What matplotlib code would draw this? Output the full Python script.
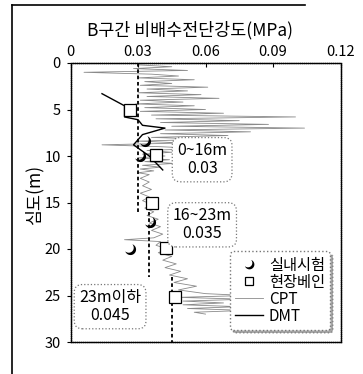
import numpy as np
import matplotlib
matplotlib.use("Agg")
import matplotlib.pyplot as plt
from matplotlib.path import Path
from matplotlib.lines import Line2D

plt.rcParams['font.family'] = ['Noto Sans CJK KR', 'DejaVu Sans']

# CPT undrained shear strength profile (depth m, Su MPa)
cpt_depth = [0.2, 0.4, 0.6, 0.8, 1.0, 1.2, 1.4, 1.6, 1.8, 2.0, 2.2, 2.4, 2.6, 2.8, 3.0,
             3.2, 3.4, 3.6, 3.8, 4.0, 4.2, 4.4, 4.6, 4.8, 5.0, 5.2, 5.4, 5.6, 5.8, 6.0,
             6.2, 6.4, 6.6, 6.8, 7.0, 7.2, 7.4, 7.6, 7.8, 8.0, 8.2, 8.4, 8.6, 8.8, 9.0,
             9.2, 9.4, 9.6, 9.8, 10.0, 10.2, 10.4, 10.6, 10.8, 11.0, 11.2, 11.4, 11.6, 11.8, 12.0,
             12.4, 12.8, 13.2, 13.6, 14.0, 14.4, 14.8, 15.2, 15.6, 16.0, 16.4, 16.8, 17.2, 17.6, 18.0,
             18.4, 18.8, 19.0, 19.2, 19.6, 20.0, 20.4, 20.8, 21.2, 21.6, 22.0, 22.4, 22.8, 23.2, 23.6,
             24.0, 24.4, 24.8, 25.0, 25.2, 25.4, 25.6, 25.8, 26.0, 26.2, 26.4, 26.6, 26.8, 27.0]
cpt_su = [0.030, 0.045, 0.028, 0.052, 0.006, 0.036, 0.048, 0.030, 0.055, 0.033, 0.045, 0.031, 0.061, 0.034, 0.052,
          0.030, 0.058, 0.034, 0.066, 0.031, 0.050, 0.029, 0.055, 0.033, 0.060, 0.031, 0.068, 0.036, 0.100, 0.038,
          0.075, 0.040, 0.088, 0.045, 0.104, 0.042, 0.080, 0.040, 0.070, 0.036, 0.062, 0.030, 0.050, 0.014, 0.040,
          0.058, 0.034, 0.045, 0.032, 0.042, 0.030, 0.044, 0.033, 0.046, 0.032, 0.040, 0.031, 0.037, 0.030, 0.035,
          0.031, 0.035, 0.032, 0.036, 0.031, 0.035, 0.032, 0.036, 0.033, 0.037, 0.034, 0.039, 0.035, 0.040, 0.036,
          0.041, 0.037, 0.024, 0.040, 0.038, 0.043, 0.039, 0.045, 0.041, 0.047, 0.042, 0.049, 0.044, 0.052, 0.046,
          0.056, 0.048, 0.060, 0.078, 0.048, 0.078, 0.050, 0.068, 0.050, 0.075, 0.052, 0.078, 0.055, 0.060]

# DMT profile
dmt_depth = [3.3, 4.6, 5.8, 6.1, 6.7, 7.0, 7.7, 8.8, 10.0, 11.5]
dmt_su = [0.014, 0.024, 0.024, 0.030, 0.032, 0.042, 0.032, 0.028, 0.035, 0.041]

# laboratory tests
lab_depth = [8.4, 10.0, 17.1, 20.0]
lab_su = [0.033, 0.031, 0.0353, 0.0264]

# field vane tests
vane_depth = [5.0, 9.9, 15.0, 19.9, 25.2]
vane_su = [0.0265, 0.038, 0.036, 0.0424, 0.0464]

# design lines
design_top = [0, 16, 23]
design_bot = [16, 23, 30]
design_su = [0.03, 0.035, 0.045]
design_text = ["0~16m\n0.03", "16~23m\n0.035", "23m이하\n0.045"]
text_x = [0.0585, 0.0585, 0.0176]
text_y = [10.4, 17.4, 26.2]

x_ticks = [0, 0.03, 0.06, 0.09, 0.12]
x_ticklabels = ["0", "0.03", "0.06", "0.09", "0.12"]
y_ticks = [0, 5, 10, 15, 20, 25, 30]

# crescent marker for lab tests (black lower-right, white upper-left)
t = np.linspace(0, 2 * np.pi, 181)
ox, oy = np.cos(t), np.sin(t)
cx, cy, r = -0.32, 0.32, 0.9
outer_keep = (ox - cx) ** 2 + (oy - cy) ** 2 > r ** 2
ix, iy = cx + r * np.cos(t), cy + r * np.sin(t)
inner_keep = ix ** 2 + iy ** 2 < 1
oidx = np.where(outer_keep)[0]
start = oidx[np.argmax(np.diff(np.r_[oidx, oidx[0] + 181]) > 1)] + 1
order = np.roll(np.arange(181), -start)
outer_pts = [(ox[i], oy[i]) for i in order if outer_keep[i]]
iidx = np.where(inner_keep)[0]
istart = iidx[np.argmax(np.diff(np.r_[iidx, iidx[0] + 181]) > 1)] + 1
iorder = np.roll(np.arange(181), -istart)
inner_pts = [(ix[i], iy[i]) for i in iorder if inner_keep[i]][::-1]
crescent = Path(outer_pts + inner_pts + [outer_pts[0]])

fig = plt.figure(figsize=(3.63, 3.74), dpi=100)
ax = fig.add_axes([70.5 / 363, 1 - 342 / 374, 270 / 363, 279 / 374])

ax.plot(cpt_su, cpt_depth, color='#8a8a8a', lw=0.6, zorder=2)
ax.vlines(design_su, design_top, design_bot, colors='black', linestyles=(0, (2, 1.5)), lw=1.3, zorder=3)
ax.plot(dmt_su, dmt_depth, color='black', lw=1.0, zorder=4)
ax.plot(vane_su, vane_depth, ls='none', marker='s', ms=8, mfc='white', mec='black', mew=0.9, zorder=5)
ax.plot(lab_su, lab_depth, ls='none', marker=crescent, ms=8, color='black', mew=0, zorder=5)

for s, xx, yy in zip(design_text, text_x, text_y):
    ax.text(xx, yy, s, ha='center', va='center', fontsize=11.5, linespacing=1.05, zorder=6,
            bbox=dict(boxstyle='round,pad=0.3,rounding_size=0.5', fc='white', ec='#777777', ls=':', lw=0.9))

ax.set_xlim(0, 0.12)
ax.set_ylim(30, 0)
ax.xaxis.tick_top()
ax.set_xticks(x_ticks)
ax.set_xticklabels(x_ticklabels)
ax.set_yticks(y_ticks)
ax.tick_params(axis='x', direction='in', length=3, pad=3, labelsize=10.5)
ax.tick_params(axis='y', direction='out', length=3, pad=4, labelsize=10.5)
for sp in ax.spines.values():
    sp.set_linewidth(1.0)
    sp.set_linestyle((0, (1, 0.5)))

handles = [
    Line2D([], [], ls='none', marker=crescent, ms=7, color='black', mew=0),
    Line2D([], [], ls='none', marker='s', ms=6, mfc='white', mec='black', mew=0.9),
    Line2D([], [], color='#8a8a8a', lw=0.6),
    Line2D([], [], color='black', lw=1.0),
]
leg = ax.legend(handles, ['실내시험', '현장베인', 'CPT', 'DMT'], loc='lower right',
                bbox_to_anchor=(0.99, 0.015), fontsize=11, handlelength=1.8, handletextpad=0.4,
                labelspacing=0.0, borderpad=0.35, fancybox=True, shadow=True, framealpha=1)
leg.get_frame().set_edgecolor('#777777')
leg.get_frame().set_linestyle(':')

fig.text(190 / 363, 1 - 30 / 374, "B구간 비배수전단강도(MPa)", ha='center', va='center', fontsize=12.5)
fig.text(34 / 363, 1 - 195 / 374, "심도(m)", ha='center', va='center', rotation=90, fontsize=12.5)

# outer frame
fig.add_artist(Line2D([12 / 363, 12 / 363], [0, 1 - 5 / 374], color='black', lw=1.2))
fig.add_artist(Line2D([12 / 363, 305 / 363], [1 - 5 / 374, 1 - 5 / 374], color='black', lw=1.2))

fig.savefig('out.png', dpi=100)
